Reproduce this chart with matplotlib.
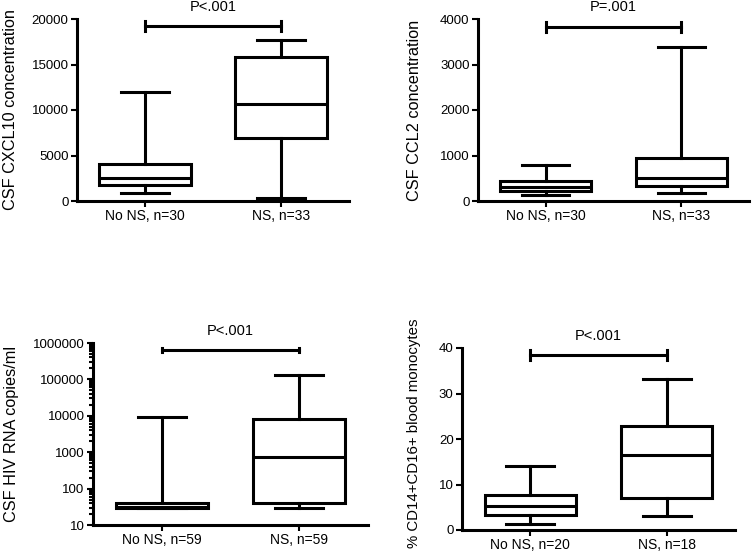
import numpy as np
import matplotlib.pyplot as plt
from matplotlib.ticker import LogLocator, NullFormatter

plt.rcParams['font.family'] = ['Liberation Sans', 'DejaVu Sans']

groups_a = ["No NS, n=30", "NS, n=33"]
groups_b = ["No NS, n=59", "NS, n=59"]
groups_c = ["No NS, n=20", "NS, n=18"]

# whisker low, q1, median, q3, whisker high
cxcl10 = [[850, 1750, 2500, 4080, 11950], [300, 6950, 10620, 15850, 17680]]
ccl2 = [[135, 228, 318, 445, 790], [183, 330, 500, 940, 3390]]
hiv_rna = [[30, 30, 31, 40, 9200], [30, 39, 740, 8000, 128000]]
cd16 = [[1.3, 3.3, 5.3, 7.7, 14.1], [3.0, 7.1, 16.5, 22.9, 33.2]]

ylabels = ["CSF CXCL10 concentration", "CSF CCL2 concentration",
           "CSF HIV RNA copies/ml", "% CD14+CD16+ blood monocytes"]
pvals = ["P<.001", "P=.001", "P<.001", "P<.001"]

W, H = 752, 554
fig = plt.figure(figsize=(W / 100, H / 100), dpi=100)


def px_axes(x0, x1, ytop, ybot):
    return fig.add_axes([x0 / W, 1 - ybot / H, (x1 - x0) / W, (ybot - ytop) / H])


panels = [
    (px_axes(77, 349, 19, 201), cxcl10, groups_a, (0, 20000), False, 19230, (-0.217, 0.5), 11.7),
    (px_axes(478, 749, 19, 201), ccl2, groups_a, (0, 4000), False, 3830, (-0.207, 0.5), 11.7),
    (px_axes(93, 368, 343, 525), hiv_rna, groups_b, (10, 1e6), True, 6.5e5, (-0.27, 0.5), 11.7),
    (px_axes(462, 735, 348, 530), cd16, groups_c, (0, 40), False, 38.4, (-0.15, 0.534), 10.8),
]

lw = 2.2
for i, (ax, vals, labels, ylim, logy, bry, labpos, labsize) in enumerate(panels):
    stats = []
    for v, lab in zip(vals, labels):
        stats.append(dict(whislo=v[0], q1=v[1], med=v[2], q3=v[3], whishi=v[4],
                          fliers=[], label=lab))
    ax.bxp(stats, positions=[1, 2], widths=0.67, showfliers=False, patch_artist=True,
           boxprops=dict(facecolor='white', edgecolor='black', linewidth=lw),
           medianprops=dict(color='black', linewidth=lw),
           whiskerprops=dict(color='black', linewidth=lw),
           capprops=dict(color='black', linewidth=lw), capwidths=0.35)
    if logy:
        ax.set_yscale('log')
        ax.yaxis.set_minor_locator(LogLocator(base=10, subs=np.arange(2, 10), numticks=10))
        ax.yaxis.set_minor_formatter(NullFormatter())
        ax.set_yticks([10, 100, 1000, 10000, 100000, 1000000])
        ax.set_yticklabels(["10", "100", "1000", "10000", "100000", "1000000"])
        ax.tick_params(axis='y', which='minor', length=3, width=1.5)
    ax.set_ylim(*ylim)
    ax.set_xlim(0.5, 2.5)
    for s in ['top', 'right']:
        ax.spines[s].set_visible(False)
    for s in ['left', 'bottom']:
        ax.spines[s].set_linewidth(lw)
    ax.tick_params(axis='both', which='major', length=4, width=1.5, pad=2)
    ax.tick_params(axis='y', labelsize=9.5)
    ax.tick_params(axis='x', labelsize=10)
    ax.set_ylabel(ylabels[i], fontsize=labsize)
    ax.yaxis.set_label_coords(*labpos)

    # significance bracket
    if logy:
        dy = 1.12
        ax.plot([1, 1], [bry / dy, bry * dy], color='black', lw=lw, clip_on=False)
        ax.plot([2, 2], [bry / dy, bry * dy], color='black', lw=lw, clip_on=False)
    else:
        dy = (ylim[1] - ylim[0]) * 0.028
        ax.plot([1, 1], [bry - dy, bry + dy], color='black', lw=lw, clip_on=False)
        ax.plot([2, 2], [bry - dy, bry + dy], color='black', lw=lw, clip_on=False)
    ax.plot([1, 2], [bry, bry], color='black', lw=lw, clip_on=False)
    ax.text(1.5, 1.067, pvals[i], transform=ax.get_xaxis_transform(),
            ha='center', va='center', fontsize=10.5)

fig.savefig("out.png", dpi=100)
